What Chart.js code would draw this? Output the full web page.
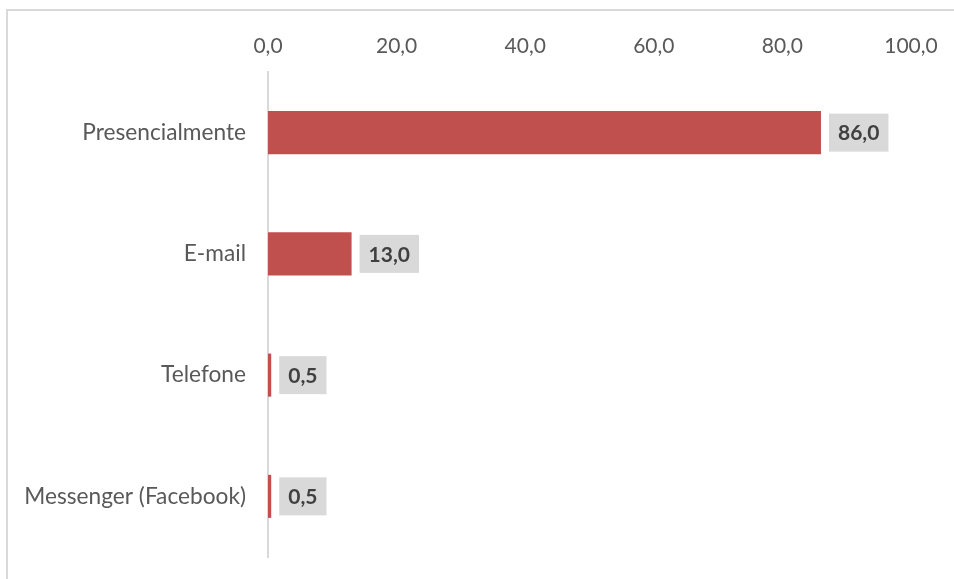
<!DOCTYPE html>
<html>
<head>
<meta charset="utf-8">
<script src="https://cdn.jsdelivr.net/npm/chart.js@4/dist/chart.umd.min.js"></script>
<style>
html,body{margin:0;padding:0;background:#fff;}
canvas{display:block;}
</style>
</head>
<body>
<canvas id="c" width="954" height="579"></canvas>
<script>
const categories = ["Presencialmente", "E-mail", "Telefone", "Messenger (Facebook)"];
const values = [86.0, 13.0, 0.5, 0.5];
const xTicks = [0, 20, 40, 60, 80, 100];

const fmt = v => v.toFixed(1).replace('.', ',');
const FONT = "Lato, 'Liberation Sans', sans-serif";

const frame = {
  id: 'frame',
  beforeDraw(chart) {
    const ctx = chart.ctx;
    ctx.save();
    ctx.strokeStyle = '#d9d9d9';
    ctx.lineWidth = 2;
    ctx.beginPath();
    ctx.moveTo(7, 579);
    ctx.lineTo(7, 10);
    ctx.lineTo(954, 10);
    ctx.stroke();
    ctx.restore();
  }
};

const labels = {
  id: 'labels',
  afterDatasetsDraw(chart) {
    const ctx = chart.ctx;
    const meta = chart.getDatasetMeta(0);
    ctx.save();
    ctx.font = "bold 21px " + FONT;
    ctx.textBaseline = 'middle';
    ctx.textAlign = 'center';
    meta.data.forEach((el, i) => {
      const txt = fmt(values[i]);
      const w = Math.max(ctx.measureText(txt).width + 18, 47);
      const h = 38;
      const x0 = el.x + 8;
      ctx.fillStyle = '#d9d9d9';
      ctx.fillRect(x0, el.y - h / 2, w, h);
      ctx.fillStyle = '#404040';
      ctx.fillText(txt, x0 + w / 2, el.y + 1);
    });
    ctx.restore();
  }
};

new Chart(document.getElementById('c'), {
  type: 'bar',
  data: {
    labels: categories,
    datasets: [{
      data: values,
      backgroundColor: '#c0504d',
      borderWidth: 0,
      categoryPercentage: 1,
      barPercentage: 0.355
    }]
  },
  options: {
    indexAxis: 'y',
    responsive: false,
    animation: false,
    events: [],
    layout: { padding: { left: 0, right: 43, top: 0, bottom: 22 } },
    plugins: { legend: { display: false }, tooltip: { enabled: false } },
    scales: {
      x: {
        position: 'top',
        min: 0, max: 100,
        afterBuildTicks(scale) { scale.ticks = xTicks.map(v => ({ value: v })); },
        afterFit(scale) { scale.height = 72; scale.paddingLeft = 0; scale.paddingRight = 0; },
        grid: { display: false, drawTicks: false },
        border: { display: false },
        ticks: {
          color: '#595959',
          font: { family: FONT, size: 21 },
          padding: 13,
          callback: v => fmt(v)
        }
      },
      y: {
        afterFit(scale) { scale.width = 268; scale.paddingTop = 0; scale.paddingBottom = 0; },
        grid: { display: false, drawTicks: false },
        border: { display: true, color: '#d9d9d9', width: 2 },
        ticks: {
          color: '#595959',
          font: { family: FONT, size: 22.7 },
          padding: 22
        }
      }
    }
  },
  plugins: [frame, labels]
});
</script>
</body>
</html>
